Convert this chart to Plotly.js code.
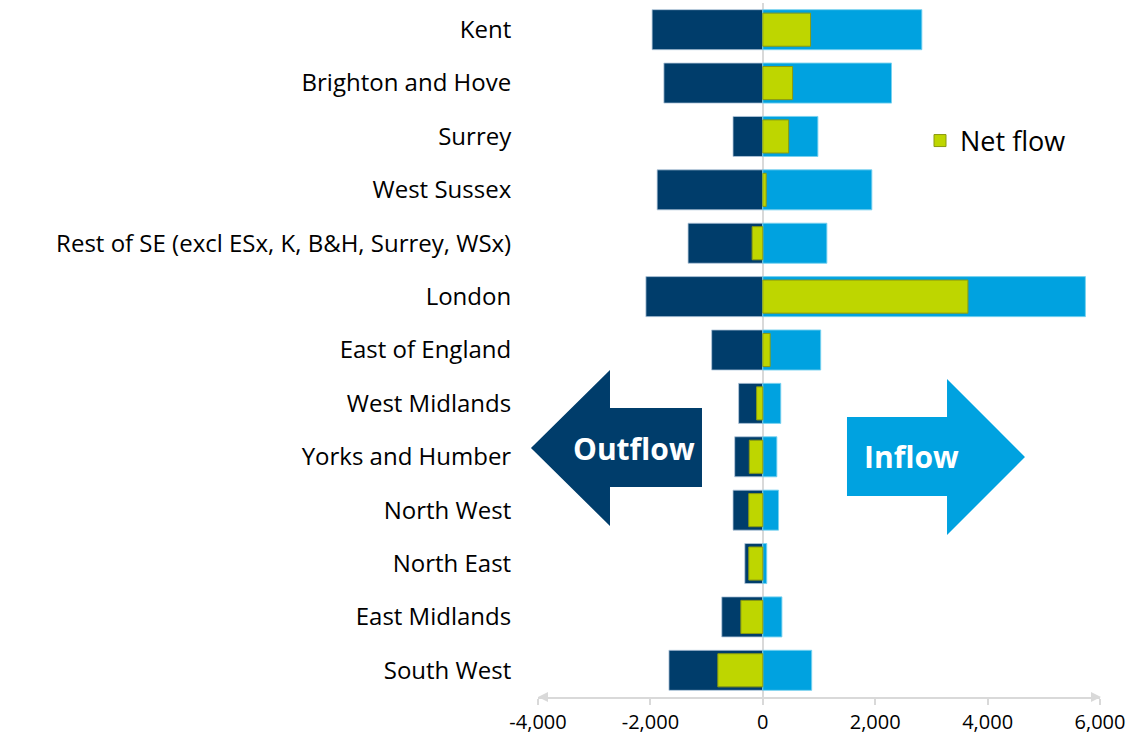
<!DOCTYPE html>
<html><head><meta charset="utf-8">
<script src="https://cdn.plot.ly/plotly-3.0.1.min.js"></script>
<style>html,body{margin:0;padding:0;background:#fff}#chart{width:1137px;height:737px}</style>
</head><body><div id="chart"></div>
<script>
const categories = ["Kent","Brighton and Hove","Surrey","West Sussex","Rest of SE (excl ESx, K, B&H, Surrey, WSx)","London","East of England","West Midlands","Yorks and Humber","North West","North East","East Midlands","South West"];
const outflow = [-1970,-1760,-530,-1880,-1330,-2080,-910,-430,-500,-530,-320,-730,-1670];
const inflow = [2830,2290,980,1940,1140,5740,1030,320,250,280,70,340,870];
const netFlow = [850,530,460,60,-190,3650,130,-110,-240,-250,-250,-390,-800];
const xTicks = [-4000,-2000,0,2000,4000,6000];
const xTickText = ["-4,000","-2,000","0","2,000","4,000","6,000"];

const W=1137,H=737,L=538,R=37,T=3,B=40;
const pw=W-L-R, ph=H-T-B;
const px=x=>(x-L)/pw, py=y=>(H-B-y)/ph;
function path(pts){return 'M'+pts.map(p=>px(p[0]).toFixed(4)+','+py(p[1]).toFixed(4)).join(' L')+' Z';}

const font = "'Open Sans', Lato, sans-serif";
const traces = [
 {type:'bar',orientation:'h',y:categories,x:outflow,width:0.75,name:'Outflow',showlegend:false,
  marker:{color:'#003d6b',line:{color:'rgba(180,200,220,0.8)',width:1}},hoverinfo:'x+y'},
 {type:'bar',orientation:'h',y:categories,x:inflow,width:0.75,name:'Inflow',showlegend:false,
  marker:{color:'#00a2e0',line:{color:'rgba(120,210,240,0.9)',width:1}},hoverinfo:'x+y'},
 {type:'bar',orientation:'h',y:categories,x:netFlow,width:0.62,name:'Net flow',showlegend:true,
  marker:{color:'#bed600',line:{color:'#8a9a10',width:1}},hoverinfo:'x+y'}
];
const shapes = [
 {type:'path',xref:'paper',yref:'paper',path:path([[531,448],[610,370],[610,408],[702,408],[702,487],[610,487],[610,526]]),fillcolor:'#003d6b',line:{width:0},layer:'above'},
 {type:'path',xref:'paper',yref:'paper',path:path([[847,417],[947,417],[947,379],[1025,457],[947,535],[947,496],[847,496]]),fillcolor:'#00a2e0',line:{width:0},layer:'above'},
 {type:'path',xref:'paper',yref:'paper',path:path([[538,697],[548,692],[548,702]]),fillcolor:'#d9d9d9',line:{width:0}},
 {type:'path',xref:'paper',yref:'paper',path:path([[1101,697],[1091,692],[1091,702]]),fillcolor:'#d9d9d9',line:{width:0}}
];
const annotations = [
 {xref:'paper',yref:'paper',x:px(634),y:py(448),xanchor:'center',yanchor:'middle',text:'<b>Outflow</b>',showarrow:false,font:{family:font,size:30,color:'#fff'}},
 {xref:'paper',yref:'paper',x:px(911),y:py(457),xanchor:'center',yanchor:'middle',text:'<b>Inflow</b>',showarrow:false,font:{family:font,size:30,color:'#fff'}}
];
const layout = {
 width:W,height:H,margin:{l:L,r:R,t:T,b:B},barmode:'overlay',
 paper_bgcolor:'#fff',plot_bgcolor:'#fff',font:{family:font,color:'#000'},
 xaxis:{range:[-4000,6000],tickvals:xTicks,ticktext:xTickText,showgrid:false,zeroline:true,zerolinecolor:'#d9d9d9',zerolinewidth:2,
   showline:true,linecolor:'#d9d9d9',linewidth:2,ticks:'outside',ticklen:6,tickcolor:'#d9d9d9',tickwidth:2,
   tickfont:{size:20,color:'#000',family:font},fixedrange:true},
 yaxis:{type:'category',autorange:'reversed',showgrid:false,showline:false,ticks:'outside',ticklen:21,tickcolor:'rgba(0,0,0,0)',
   tickfont:{size:24,color:'#000',family:font},fixedrange:true},
 legend:{x:px(920),y:py(141),xanchor:'left',yanchor:'middle',font:{size:27,family:font,color:'#000'},bgcolor:'rgba(0,0,0,0)'},
 shapes:shapes,annotations:annotations
};
Plotly.newPlot('chart',traces,layout,{displayModeBar:false,staticPlot:true});
</script></body></html>
